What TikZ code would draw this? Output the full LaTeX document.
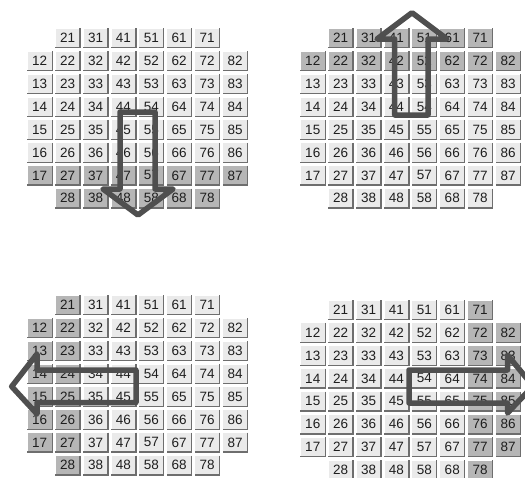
\documentclass[tikz,border=0pt]{standalone}
\usepackage{fontspec}
\setmainfont{Liberation Sans}
\definecolor{celllight}{HTML}{EAEAEA}
\definecolor{celldark}{HTML}{B6B6B6}
\definecolor{cellshadow}{HTML}{6E6E6E}
\definecolor{arrowgray}{HTML}{4F4F4F}
\definecolor{celltext}{HTML}{1E1E1E}
\begin{document}
\begin{tikzpicture}[x=1pt,y=-1pt,
  cellbox/.style={inner sep=0pt, minimum width=24.5pt, minimum height=19pt,
    anchor=north west, font=\fontsize{13.5}{14}\selectfont, text=celltext},
  shadowline/.style={draw=cellshadow, line width=1.3pt},
  highline/.style={draw=white, line width=0.9pt},
  arrowline/.style={draw=arrowgray, line width=5.5pt, line join=round}]
\useasboundingbox (0,0) rectangle (525,477);
\fill[white] (0,0) rectangle (525,477);
\begin{scope}
\clip (0,0) rectangle (525,477);
\foreach \q/\ox/\oy in {1/27.3/28.3, 2/300.3/28.3, 3/27.3/295.3, 4/300.3/300.0}{
  \foreach \r in {1,...,8}{
    \foreach \c in {1,...,8}{
      \pgfmathtruncatemacro\skip{((\r==1)||(\r==8))&&((\c==1)||(\c==8))}
      \ifnum\skip=0
        \pgfmathtruncatemacro\dk{(\q==1)*(\r>6) + (\q==2)*(\r<3) + (\q==3)*(\c<3) + (\q==4)*(\c>6)}
        \ifnum\dk>0 \def\cf{celldark}\else\def\cf{celllight}\fi
        \def\nm{q\q c\c\r}
        \node[cellbox, fill=\cf] (\nm) at ({\ox+27.9*(\c-1)},{\oy+22.9*(\r-1)}) {\c\r};
        \draw[highline] (\nm.south west) -- (\nm.north west) -- (\nm.north east);
        \draw[shadowline] (\nm.north east) -- (\nm.south east) -- (\nm.south west);
      \fi
    }
  }
}
% down arrow (top left)
\draw[arrowline] (120,112) -- (155,112) -- (155,189) -- (173,189) -- (138,215)
  -- (103,189) -- (120,189) -- cycle;
% up arrow (top right)
\draw[arrowline] (394.7,115) -- (428,115) -- (428,39) -- (447,39) -- (412,12.7)
  -- (377,39) -- (394.7,39) -- cycle;
% left arrow (bottom left)
\draw[arrowline] (136,370) -- (136,402.5) -- (37,402.5) -- (37,414) -- (11.7,386.5)
  -- (37,354) -- (37,370) -- cycle;
% right arrow (bottom right)
\draw[arrowline] (409,370) -- (409,403) -- (507.5,403) -- (507.5,413) -- (533,386)
  -- (507.5,355) -- (507.5,370) -- cycle;
\end{scope}
\end{tikzpicture}
\end{document}
